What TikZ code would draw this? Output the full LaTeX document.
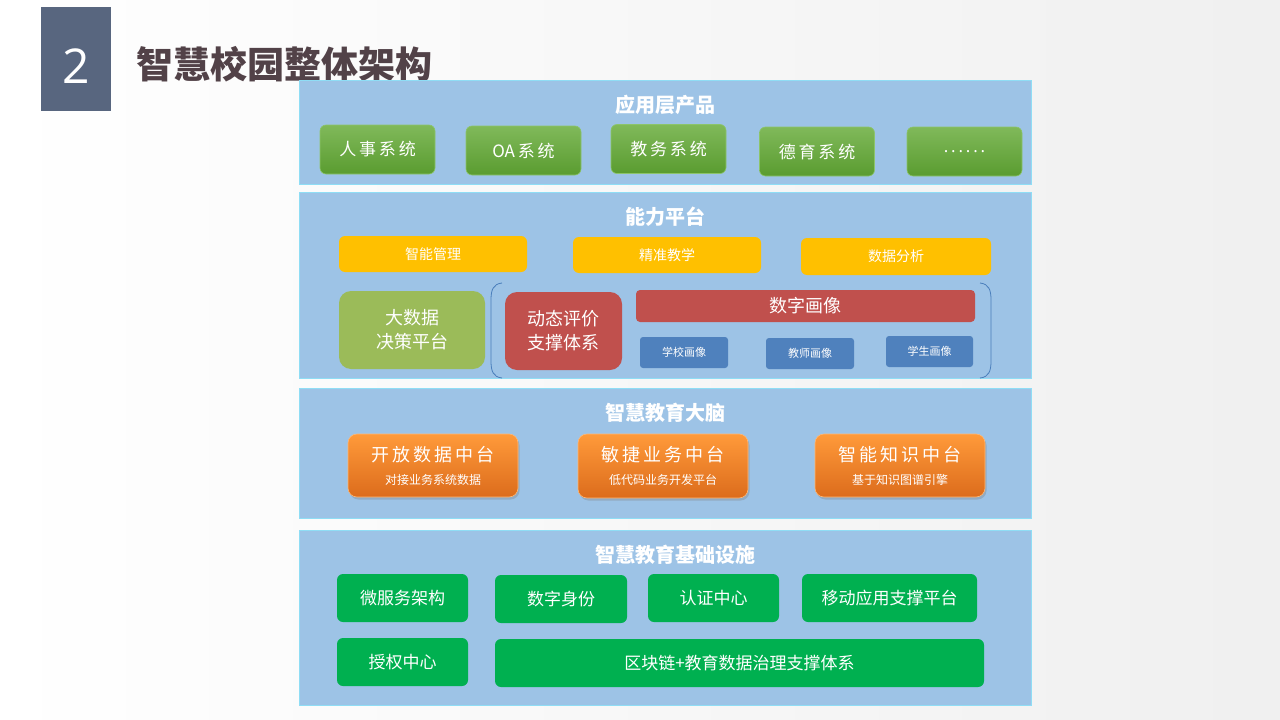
\documentclass[tikz,border=0pt]{standalone}
\usepackage{fontspec}
\setmainfont{Noto Sans CJK SC}
\newfontfamily\cjk{Noto Sans CJK SC}
\newfontfamily\numfont{Open Sans}
\usetikzlibrary{shadows}
\definecolor{bandblue}{HTML}{9DC3E6}
\definecolor{bandedge}{HTML}{8FDDF5}
\definecolor{numbox}{HTML}{58667F}
\definecolor{titlecol}{HTML}{524248}
\definecolor{gtop}{HTML}{80B95A}
\definecolor{gbot}{HTML}{5A9C30}
\definecolor{gedge}{HTML}{8CC46A}
\definecolor{ylw}{HTML}{FFC000}
\definecolor{olive}{HTML}{9BBB59}
\definecolor{redbox}{HTML}{C0504D}
\definecolor{bluebox}{HTML}{4F81BD}
\definecolor{otop}{HTML}{FF9A3A}
\definecolor{obot}{HTML}{DC6C1C}
\definecolor{grn}{HTML}{00B050}
\definecolor{brk}{HTML}{4A7EBB}
\tikzset{
  band/.style={fill=bandblue, draw=bandedge, line width=0.8pt},
  bandtitle/.style={text=white, font=\cjk\bfseries\fontsize{20}{22}\selectfont},
  appbox/.style={rounded corners=6pt, top color=gtop, bottom color=gbot, draw=gedge, line width=0.6pt, text=white, font=\cjk\fontsize{17}{20}\selectfont, minimum width=115pt, minimum height=49pt},
  ybox/.style={rounded corners=6pt, fill=ylw, text=white, font=\cjk\fontsize{14}{16}\selectfont, minimum height=36pt},
  bigbox/.style={rounded corners=12pt, text=white, font=\cjk\fontsize{18}{24}\selectfont, align=center},
  rbar/.style={rounded corners=4pt, fill=redbox, text=white, font=\cjk\fontsize{18}{20}\selectfont},
  pbox/.style={rounded corners=3pt, fill=bluebox, text=white, font=\cjk\fontsize{11}{13}\selectfont, minimum width=88pt, minimum height=31pt},
  obox/.style={rounded corners=9pt, top color=otop, bottom color=obot, draw=otop!70!white, line width=0.6pt, text=white, align=center, font=\cjk\fontsize{18}{23}\selectfont, minimum width=170pt, minimum height=63pt, drop shadow={shadow xshift=1.5pt, shadow yshift=-2.5pt, opacity=0.35}},
  gbox/.style={rounded corners=6pt, fill=grn, text=white, font=\cjk\fontsize{17}{20}\selectfont, minimum height=48pt},
}
\begin{document}
\begin{tikzpicture}[x=1pt,y=-1pt]
\useasboundingbox (0,0) rectangle (1280,720);
\shade[left color=white, right color=black!6] (0,0) rectangle (1280,720);
% header
\node[fill=numbox, minimum width=70pt, minimum height=104pt, inner sep=0pt] (numbox) at (76,59) {};
\node[text=white, font=\numfont\fontsize{48}{50}\selectfont] (num) at (76,66) {2};
\node[text=titlecol, font=\cjk\bfseries\fontsize{37}{40}\selectfont, anchor=west, inner sep=0pt] (title) at (136,64) {智慧校园整体架构};
% bands
\path[band] (299,80) rectangle (1031,184);
\path[band] (299,192) rectangle (1031,378);
\path[band] (299,388) rectangle (1031,518);
\path[band] (299,530) rectangle (1031,705);
\node[bandtitle] (t1) at (665,105) {应用层产品};
\node[bandtitle] (t2) at (665,217) {能力平台};
\node[bandtitle] (t3) at (665,413) {智慧教育大脑};
\node[bandtitle] (t4) at (675,555) {智慧教育基础设施};
% layer 1
\node[appbox] (a1) at (377.5,149.5) {人\,事\,系\,统};
\node[appbox] (a2) at (523.5,150.5) {OA\,系\,统};
\node[appbox] (a3) at (668.5,149) {教\,务\,系\,统};
\node[appbox] (a4) at (817,151.5) {德\,育\,系\,统};
\node[appbox, font=\numfont\fontsize{17}{20}\selectfont] (a5) at (964.5,151.5) {.\,.\,.\,.\,.\,.};
% layer 2
\node[ybox, minimum width=188pt] (y1) at (433,254) {智能管理};
\node[ybox, minimum width=188pt] (y2) at (667,255) {精准教学};
\node[ybox, minimum width=190pt, minimum height=37pt] (y3) at (896,256.5) {数据分析};
\node[bigbox, fill=olive, minimum width=146pt, minimum height=78pt] (bd) at (412,330) {大数据\\决策平台};
\draw[brk, line width=0.8pt] (502,283) .. controls (493,284) and (491,290) .. (491,300) -- (491,361) .. controls (491,371) and (493,377) .. (502,378);
\draw[brk, line width=0.8pt] (980,283) .. controls (989,284) and (991,290) .. (991,300) -- (991,361) .. controls (991,371) and (989,377) .. (980,378);
\node[bigbox, fill=redbox, minimum width=117pt, minimum height=78pt] (dt) at (563.5,331) {动态评价\\支撑体系};
\node[rbar, minimum width=339pt, minimum height=32pt] (sz) at (805.5,306) {数字画像};
\node[pbox] (p1) at (684,352.5) {学校画像};
\node[pbox] (p2) at (810,353.5) {教师画像};
\node[pbox, minimum width=87pt] (p3) at (929.5,351.5) {学生画像};
% layer 3
\node[obox] (o1) at (433,465.5) {开\,放\,数\,据\,中\,台\\{\fontsize{12}{14}\selectfont 对接业务系统数据}};
\node[obox, minimum height=64pt] (o2) at (663,466) {敏\,捷\,业\,务\,中\,台\\{\fontsize{12}{14}\selectfont 低代码业务开发平台}};
\node[obox] (o3) at (900,465.5) {智\,能\,知\,识\,中\,台\\{\fontsize{12}{14}\selectfont 基于知识图谱引擎}};
% layer 4
\node[gbox, minimum width=131pt] (g1) at (402.5,598) {微服务架构};
\node[gbox, minimum width=132pt] (g2) at (561,599) {数字身份};
\node[gbox, minimum width=131pt] (g3) at (713.5,598) {认证中心};
\node[gbox, minimum width=175pt] (g4) at (889.5,598) {移动应用支撑平台};
\node[gbox, minimum width=131pt] (g5) at (402.5,662) {授权中心};
\node[gbox, minimum width=489pt] (g6) at (739.5,663) {区块链+教育数据治理支撑体系};
\end{tikzpicture}
\end{document}
